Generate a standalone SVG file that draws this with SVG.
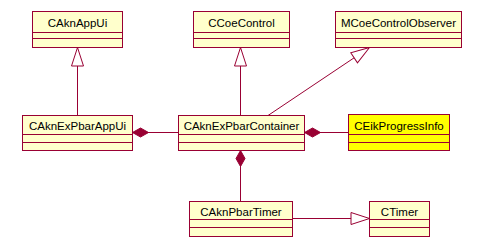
<svg xmlns="http://www.w3.org/2000/svg" width="485" height="249" viewBox="0 0 485 249">
  <style>
    .box { fill: #ffffcc; stroke: #990033; stroke-width: 1; }
    .hl { fill: #ffff00; }
    .div { stroke: #990033; stroke-width: 1; fill: none; }
    .lbl { font-family: "Liberation Sans", Arial, sans-serif; font-size: 11.5px; fill: #000; text-anchor: middle; }
    .edge { stroke: #990033; stroke-width: 1; fill: none; }
    .gen { marker-end: url(#tri); }
    .comp { marker-start: url(#dia); }
  </style>
  <defs>
    <marker id="tri" markerUnits="userSpaceOnUse" markerWidth="24" markerHeight="16" viewBox="-20 -8 22 16" refX="0" refY="0" orient="auto" overflow="visible">
      <path d="M0,0 L-18.5,-6 L-18.5,6 Z" fill="#ffffff" stroke="#990033" stroke-width="1"/>
    </marker>
    <marker id="dia" markerUnits="userSpaceOnUse" markerWidth="20" markerHeight="12" viewBox="-1 -6 20 12" refX="0" refY="0" orient="auto" overflow="visible">
      <path d="M0,0 L8,-4.5 L16,0 L8,4.5 Z" fill="#990033" stroke="#990033" stroke-width="1"/>
    </marker>
  </defs>

  <!-- connectors -->
  <g id="connectors">
    <line class="edge gen" x1="77.5" y1="115.5" x2="77.5" y2="47.5"/>
    <line class="edge gen" x1="240.5" y1="115.5" x2="240.5" y2="47.5"/>
    <line class="edge gen" x1="268" y1="115.5" x2="369.5" y2="47.5"/>
    <line class="edge gen" x1="292.5" y1="218.5" x2="369.5" y2="218.5"/>
    <line class="edge comp" x1="132.5" y1="132.5" x2="178.5" y2="132.5"/>
    <line class="edge comp" x1="304.5" y1="132.5" x2="348.5" y2="132.5"/>
    <line class="edge comp" x1="240.5" y1="150.5" x2="240.5" y2="201.5"/>
  </g>

  <g id="CAknAppUi">
    <rect class="box" x="32.5" y="11.5" width="90" height="36"/>
    <path class="div" d="M32.5,32.5 H122.5 M32.5,38.5 H122.5"/>
    <text class="lbl" x="77.5" y="27">CAknAppUi</text>
  </g>

  <g id="CCoeControl">
    <rect class="box" x="193.5" y="11.5" width="96" height="36"/>
    <path class="div" d="M193.5,32.5 H289.5 M193.5,38.5 H289.5"/>
    <text class="lbl" x="241.5" y="27">CCoeControl</text>
  </g>

  <g id="MCoeControlObserver">
    <rect class="box" x="335.5" y="11.5" width="126" height="36"/>
    <path class="div" d="M335.5,32.5 H461.5 M335.5,38.5 H461.5"/>
    <text class="lbl" x="398.5" y="27">MCoeControlObserver</text>
  </g>

  <g id="CAknExPbarAppUi">
    <rect class="box" x="22.5" y="115.5" width="110" height="35"/>
    <path class="div" d="M22.5,134.5 H132.5 M22.5,142.5 H132.5"/>
    <text class="lbl" x="77.5" y="130">CAknExPbarAppUi</text>
  </g>

  <g id="CAknExPbarContainer">
    <rect class="box" x="178.5" y="115.5" width="126" height="35"/>
    <path class="div" d="M178.5,134.5 H304.5 M178.5,142.5 H304.5"/>
    <text class="lbl" x="241.5" y="130">CAknExPbarContainer</text>
  </g>

  <g id="CEikProgressInfo">
    <rect class="box hl" x="348.5" y="114.5" width="101" height="36"/>
    <path class="div" d="M348.5,134.5 H449.5 M348.5,142.5 H449.5"/>
    <text class="lbl" x="399" y="130">CEikProgressInfo</text>
  </g>

  <g id="CAknPbarTimer">
    <rect class="box" x="189.5" y="201.5" width="103" height="35"/>
    <path class="div" d="M189.5,219.5 H292.5 M189.5,227.5 H292.5"/>
    <text class="lbl" x="241" y="216">CAknPbarTimer</text>
  </g>

  <g id="CTimer">
    <rect class="box" x="369.5" y="201.5" width="60" height="35"/>
    <path class="div" d="M369.5,219.5 H429.5 M369.5,227.5 H429.5"/>
    <text class="lbl" x="399.5" y="216">CTimer</text>
  </g>
</svg>
